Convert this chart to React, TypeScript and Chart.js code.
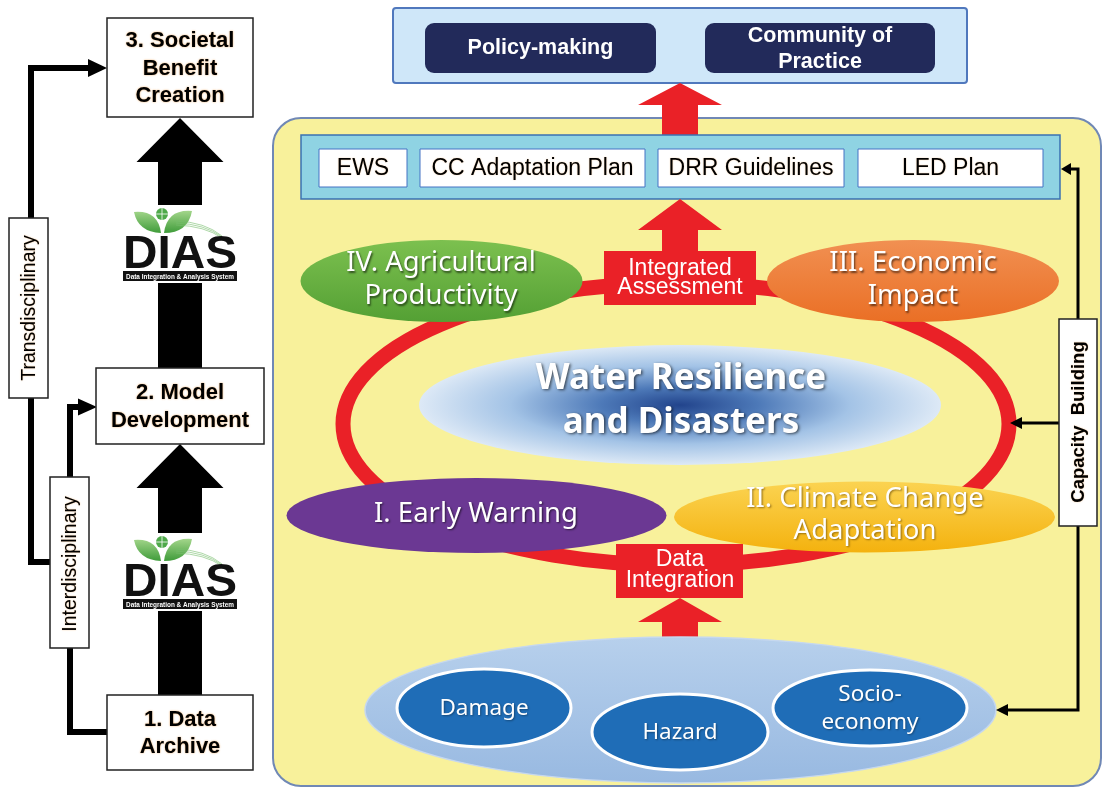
import { useEffect, useRef } from 'react';
import { Chart, registerables } from 'chart.js';

Chart.register(...registerables);

const W = 1104;
const H = 787;

const stageLabels = [['3. Societal', 'Benefit', 'Creation'], ['2. Model', 'Development'], ['1. Data', 'Archive']];
const linkLabels = ['Transdisciplinary', 'Interdisciplinary'];
const goalLabels = [['Policy-making'], ['Community of', 'Practice']];
const outputLabels = ['EWS', 'CC Adaptation Plan', 'DRR Guidelines', 'LED Plan'];
const pillarLabels = [['IV. Agricultural', 'Productivity'], ['III. Economic', 'Impact'], ['I. Early Warning'], ['II. Climate Change', 'Adaptation']];
const coreLabel = ['Water Resilience', 'and Disasters'];
const hubLabels = [['Integrated', 'Assessment'], ['Data', 'Integration']];
const sourceLabels = [['Damage'], ['Hazard'], ['Socio-', 'economy']];
const supportLabel = 'Capacity  Building';
const logoLabels = ['DIAS', 'Data Integration & Analysis System'];

const RED = '#ea2127';
const SANS = '"Liberation Sans", Arial, sans-serif';
const NOTO = '"Noto Sans", "Open Sans", sans-serif';

function drawDiagram(chart: any) {
  const ctx: CanvasRenderingContext2D = chart.ctx;
  const sx = chart.scales.x;
  const sy = chart.scales.y;
  const X = (v: number) => sx.getPixelForValue(v);
  const Y = (v: number) => sy.getPixelForValue(v);

  const rectPath = (x0: number, y0: number, x1: number, y1: number, r = 0) => {
    ctx.beginPath();
    (ctx as any).roundRect(X(x0), Y(y0), X(x1) - X(x0), Y(y1) - Y(y0), r);
  };
  const box = (x0: number, y0: number, x1: number, y1: number, fill: string, stroke: string | null, lw = 1, r = 0) => {
    rectPath(x0, y0, x1, y1, r);
    ctx.fillStyle = fill;
    ctx.fill();
    if (stroke) {
      ctx.lineWidth = lw;
      ctx.strokeStyle = stroke;
      ctx.stroke();
    }
  };
  const ellipsePath = (cx: number, cy: number, rx: number, ry: number) => {
    ctx.beginPath();
    ctx.ellipse(X(cx), Y(cy), X(cx + rx) - X(cx), Y(cy + ry) - Y(cy), 0, 0, Math.PI * 2);
  };
  const text = (lines: string[], cx: number, cy: number, lh: number, font: string, color: string, shadow?: string, sBlur = 2, sOff = 1) => {
    ctx.save();
    ctx.font = font;
    ctx.fillStyle = color;
    ctx.textAlign = 'center';
    ctx.textBaseline = 'middle';
    if (shadow) {
      ctx.shadowColor = shadow;
      ctx.shadowBlur = sBlur;
      ctx.shadowOffsetX = sOff;
      ctx.shadowOffsetY = sOff;
    }
    const n = lines.length;
    lines.forEach((l, i) => {
      ctx.fillText(l, X(cx), Y(cy + (i - (n - 1) / 2) * lh));
    });
    ctx.restore();
  };
  const upArrow = (cx: number, tip: number, base: number, hh: number, sh: number, bottom: number, color: string) => {
    ctx.beginPath();
    ctx.moveTo(X(cx), Y(tip));
    ctx.lineTo(X(cx + hh), Y(base));
    ctx.lineTo(X(cx + sh), Y(base));
    ctx.lineTo(X(cx + sh), Y(bottom));
    ctx.lineTo(X(cx - sh), Y(bottom));
    ctx.lineTo(X(cx - sh), Y(base));
    ctx.lineTo(X(cx - hh), Y(base));
    ctx.closePath();
    ctx.fillStyle = color;
    ctx.fill();
  };
  const polyline = (pts: number[][], lw: number, color: string) => {
    ctx.beginPath();
    pts.forEach((p, i) => (i ? ctx.lineTo(X(p[0]), Y(p[1])) : ctx.moveTo(X(p[0]), Y(p[1]))));
    ctx.lineWidth = lw;
    ctx.strokeStyle = color;
    ctx.lineJoin = 'miter';
    ctx.lineCap = 'butt';
    ctx.stroke();
  };
  const headH = (tipX: number, y: number, baseX: number, half: number, color: string) => {
    ctx.beginPath();
    ctx.moveTo(X(tipX), Y(y));
    ctx.lineTo(X(baseX), Y(y - half));
    ctx.lineTo(X(baseX), Y(y + half));
    ctx.closePath();
    ctx.fillStyle = color;
    ctx.fill();
  };
  const vText = (t: string, cx: number, cy: number, font: string) => {
    ctx.save();
    ctx.translate(X(cx), Y(cy));
    ctx.rotate(-Math.PI / 2);
    ctx.font = font;
    ctx.fillStyle = '#000';
    ctx.textAlign = 'center';
    ctx.textBaseline = 'middle';
    ctx.shadowColor = 'rgba(235,150,60,0.6)';
    ctx.shadowBlur = 1.5;
    ctx.fillText(t, 0, 1);
    ctx.restore();
  };
  const logo = (dy: number) => {
    box(150, 205 + dy, 210, 283 + dy, '#ffffff', null);
    const leafGrad = ctx.createLinearGradient(0, Y(206 + dy), 0, Y(233 + dy));
    leafGrad.addColorStop(0, '#b9e29c');
    leafGrad.addColorStop(1, '#3f9c3a');
    ctx.fillStyle = leafGrad;
    ctx.beginPath();
    ctx.moveTo(X(161), Y(233 + dy));
    ctx.quadraticCurveTo(X(138), Y(232 + dy), X(134), Y(212 + dy));
    ctx.quadraticCurveTo(X(158), Y(210 + dy), X(161), Y(233 + dy));
    ctx.fill();
    ctx.beginPath();
    ctx.moveTo(X(164), Y(233 + dy));
    ctx.quadraticCurveTo(X(188), Y(233 + dy), X(192), Y(211 + dy));
    ctx.quadraticCurveTo(X(167), Y(209 + dy), X(164), Y(233 + dy));
    ctx.fill();
    ctx.strokeStyle = 'rgba(120,190,110,0.6)';
    ctx.lineWidth = 1;
    for (let k = 0; k < 3; k++) {
      ctx.beginPath();
      ctx.moveTo(X(176), Y(221 + k * 2 + dy));
      ctx.quadraticCurveTo(X(205), Y(222 + k * 2 + dy), X(222), Y(236 + k + dy));
      ctx.stroke();
    }
    ctx.beginPath();
    ctx.arc(X(162), Y(214 + dy), 6, 0, Math.PI * 2);
    ctx.fillStyle = '#4fa94a';
    ctx.fill();
    ctx.strokeStyle = '#ffffff';
    ctx.lineWidth = 0.8;
    ctx.beginPath();
    ctx.moveTo(X(156), Y(214 + dy));
    ctx.lineTo(X(168), Y(214 + dy));
    ctx.moveTo(X(162), Y(208 + dy));
    ctx.lineTo(X(162), Y(220 + dy));
    ctx.stroke();
    ctx.save();
    ctx.font = `bold 47px ${SANS}`;
    const w = ctx.measureText(logoLabels[0]).width;
    ctx.translate(X(180), Y(268 + dy));
    ctx.scale(114 / w, 1);
    ctx.fillStyle = '#111';
    ctx.textAlign = 'center';
    ctx.textBaseline = 'alphabetic';
    ctx.fillText(logoLabels[0], 0, 0);
    ctx.restore();
    box(123, 271 + dy, 237, 281 + dy, '#111', null);
    ctx.save();
    ctx.font = `bold 8px ${SANS}`;
    const w2 = ctx.measureText(logoLabels[1]).width;
    ctx.translate(X(180), Y(276.5 + dy));
    ctx.scale(108 / w2, 1);
    ctx.fillStyle = '#fff';
    ctx.textAlign = 'center';
    ctx.textBaseline = 'middle';
    ctx.fillText(logoLabels[1], 0, 0);
    ctx.restore();
  };

  ctx.save();
  ctx.fillStyle = '#ffffff';
  ctx.fillRect(0, 0, chart.width, chart.height);

  // ===== Left column =====
  upArrow(180, 118, 162, 43.5, 22, 368, '#000');
  upArrow(180, 444, 488, 43.5, 22, 695, '#000');
  logo(0);
  logo(328);

  polyline([[50, 562], [31, 562], [31, 68], [90, 68]], 6, '#000');
  headH(107, 68, 88, 9, '#000');
  polyline([[107, 732], [70, 732], [70, 407], [80, 407]], 6, '#000');
  headH(97, 407, 78, 8.5, '#000');

  box(9, 218, 48, 398, '#fff', '#222', 1.5);
  vText(linkLabels[0], 29, 308, `19.5px ${SANS}`);
  box(50, 477, 89, 648, '#fff', '#222', 1.5);
  vText(linkLabels[1], 70, 564, `19.5px ${SANS}`);

  const stageBoxes = [[107, 18, 253, 117], [96, 368, 264, 444], [107, 695, 253, 770]];
  stageBoxes.forEach((b, i) => {
    box(b[0], b[1], b[2], b[3], '#fff', '#222', 1.5);
    text(stageLabels[i], (b[0] + b[2]) / 2, (b[1] + b[3]) / 2 + 1, 27.5, `bold 22px ${SANS}`, '#000', 'rgba(235,150,60,0.8)', 2, 0);
  });

  // ===== Right part =====
  box(273, 118, 1101, 786, '#f8f19b', '#7088b5', 2, 28);

  box(393, 8, 967, 83, '#cfe7f9', '#5078bd', 2, 3);
  box(425, 23, 656, 73, '#222a5a', null, 1, 9);
  box(705, 23, 935, 73, '#222a5a', null, 1, 9);
  text(goalLabels[0], 540.5, 48.5, 26, `bold 21.5px ${SANS}`, '#fff');
  text(goalLabels[1], 820, 49, 26, `bold 21.5px ${SANS}`, '#fff');

  upArrow(680, 83, 105, 42, 18, 136, RED);

  box(301, 135, 1060, 199, '#8fd3e3', '#3b72b3', 1.5);
  const outBoxes = [[319, 407], [420, 645], [658, 844], [858, 1043]];
  outBoxes.forEach((b, i) => {
    box(b[0], 149, b[1], 187, '#fff', '#4472c4', 1);
    text([outputLabels[i]], (b[0] + b[1]) / 2, 169, 22, `23px ${SANS}`, '#000', 'rgba(235,150,60,0.5)', 1.5, 0);
  });

  // red ring
  ctx.beginPath();
  ctx.ellipse(X(676), Y(424), X(676 + 333) - X(676), Y(424 + 141) - Y(424), 0, 0, Math.PI * 2);
  ctx.lineWidth = 15;
  ctx.strokeStyle = RED;
  ctx.stroke();

  upArrow(680, 199, 230, 42, 18, 252, RED);

  box(604, 251, 756, 305, RED, null);
  text(hubLabels[0], 680, 278, 19.5, `23px ${SANS}`, '#fff');

  const grad = (y0: number, y1: number, c0: string, c1: string) => {
    const g = ctx.createLinearGradient(0, Y(y0), 0, Y(y1));
    g.addColorStop(0, c0);
    g.addColorStop(1, c1);
    return g;
  };
  const shadowTxt = 'rgba(0,0,0,0.55)';
  const PF = `27.5px ${NOTO}`;

  ellipsePath(441.5, 281, 141, 41);
  ctx.fillStyle = grad(240, 322, '#7cc04f', '#54a034');
  ctx.fill();
  text(pillarLabels[0], 441, 280, 33, PF, '#fff', shadowTxt, 2, 1.2);

  ellipsePath(913, 281, 146, 41);
  ctx.fillStyle = grad(240, 322, '#f19052', '#ea6f25');
  ctx.fill();
  text(pillarLabels[1], 913, 280, 33, PF, '#fff', shadowTxt, 2, 1.2);

  ctx.save();
  ctx.translate(X(680), Y(405));
  ctx.scale(1, 60 / 261);
  const rg = ctx.createRadialGradient(0, 0, 0, 0, 0, 261);
  rg.addColorStop(0, '#22448c');
  rg.addColorStop(0.3, '#4d79b8');
  rg.addColorStop(0.65, '#a3c3e6');
  rg.addColorStop(1, '#dde9f6');
  ctx.beginPath();
  ctx.arc(0, 0, 261, 0, Math.PI * 2);
  ctx.fillStyle = rg;
  ctx.fill();
  ctx.restore();
  text(coreLabel, 681, 401, 44, `bold 35px ${NOTO}`, '#fff', 'rgba(0,0,0,0.6)', 3, 1.5);

  ellipsePath(476.5, 515.5, 190, 37.5);
  ctx.fillStyle = '#6b3893';
  ctx.fill();
  text(pillarLabels[2], 476, 514, 30, PF, '#fff', shadowTxt, 2, 1.2);

  ellipsePath(864.5, 517, 190.5, 35.5);
  ctx.fillStyle = grad(482, 552, '#fbd351', '#f4b20f');
  ctx.fill();
  text(pillarLabels[3], 865, 515, 32, PF, '#fff', 'rgba(90,60,0,0.6)', 2, 1.2);

  box(616, 544, 743, 598, RED, null);
  text(hubLabels[1], 680, 570, 21.5, `23px ${SANS}`, '#fff');

  upArrow(680, 598, 622, 42, 18, 640, RED);

  ellipsePath(680.5, 710, 315.5, 73);
  ctx.fillStyle = grad(637, 783, '#b7d0ec', '#98b9e1');
  ctx.fill();
  ctx.lineWidth = 1.5;
  ctx.strokeStyle = '#c6d8ef';
  ctx.stroke();

  const srcEll = [[484, 708, 87, 39], [680, 732, 88, 38], [870, 708, 97, 38]];
  srcEll.forEach((e, i) => {
    ellipsePath(e[0], e[1], e[2], e[3]);
    ctx.fillStyle = '#1f6db7';
    ctx.fill();
    ctx.lineWidth = 3;
    ctx.strokeStyle = '#ffffff';
    ctx.stroke();
    text(sourceLabels[i], e[0], i === 2 ? 709 : e[1] + 1, 28, `22.5px ${NOTO}`, '#fff', 'rgba(0,0,0,0.35)', 2, 1);
  });

  polyline([[1068, 169], [1078, 169], [1078, 710], [1008, 710]], 3, '#000');
  headH(1061, 169, 1071, 6, '#000');
  polyline([[1078, 423], [1020, 423]], 3, '#000');
  headH(1010, 423, 1022, 6, '#000');
  headH(996, 710, 1008, 6, '#000');
  box(1059, 319, 1097, 526, '#fff', '#222', 1.5);
  vText(supportLabel, 1078, 422, `bold 18.5px ${SANS}`);

  ctx.restore();
}

const diagramPlugin = {
  id: 'diagram',
  afterDraw(chart: any) {
    drawDiagram(chart);
  },
};

export default function App() {
  const ref = useRef<HTMLCanvasElement | null>(null);
  useEffect(() => {
    if (!ref.current) return;
    const chart = new Chart(ref.current, {
      type: 'scatter',
      data: { datasets: [{ data: [], pointRadius: 0 }] },
      options: {
        responsive: false,
        animation: false,
        events: [],
        layout: { padding: 0 },
        plugins: { legend: { display: false }, tooltip: { enabled: false } },
        scales: {
          x: { type: 'linear', min: 0, max: W, display: false },
          y: { type: 'linear', min: 0, max: H, reverse: true, display: false },
        },
      },
      plugins: [diagramPlugin],
    } as any);
    return () => chart.destroy();
  }, []);
  return (
    <div style={{ position: 'absolute', left: 0, top: 0, width: W, height: H, background: '#fff' }}>
      <canvas ref={ref} width={W} height={H} style={{ display: 'block', width: W, height: H }} />
    </div>
  );
}
